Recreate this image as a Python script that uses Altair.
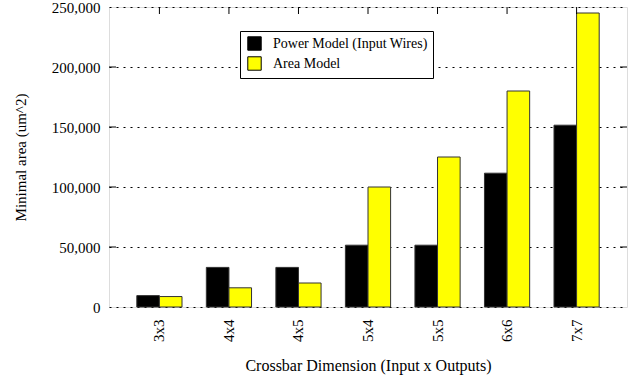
import altair as alt
import pandas as pd

categories = ["3x3", "4x4", "4x5", "5x4", "5x5", "6x6", "7x7"]
power_model = [9500, 33000, 33000, 51500, 51500, 111500, 151500]
area_model = [8700, 16000, 20000, 100000, 125000, 180000, 245000]
series_names = ["Power Model (Input Wires)", "Area Model"]
y_ticks = [0, 50000, 100000, 150000, 200000, 250000]

rows = []
for c, p, a in zip(categories, power_model, area_model):
    rows.append({"cat": c, "series": series_names[0], "value": p})
    rows.append({"cat": c, "series": series_names[1], "value": a})
df = pd.DataFrame(rows)
cat_df = pd.DataFrame({"cat": categories})
tick_df = pd.DataFrame({"value": y_ticks[1:-1]})

FONT = "Times New Roman, Liberation Serif, DejaVu Serif, serif"

xscale = alt.Scale(domain=categories, paddingInner=0.35, paddingOuter=0.40)
yscale = alt.Scale(domain=[0, 250000], nice=False)

xaxis = alt.Axis(title="Crossbar Dimension (Input x Outputs)", labelAngle=270,
                 labelAlign="right", labelBaseline="middle", labelPadding=12,
                 ticks=False, domain=False, titlePadding=16,
                 labelFont=FONT, titleFont=FONT, labelFontSize=15,
                 titleFontSize=16, labelColor="black", titleColor="black",
                 titleFontWeight="normal")
yaxis = alt.Axis(title="Minimal area (um^2)", values=y_ticks, format=",d",
                 grid=True, gridDash=[2, 5], gridColor="black", gridOpacity=1,
                 gridWidth=1, ticks=False, domain=False, labelPadding=9,
                 labelFont=FONT, titleFont=FONT, labelFontSize=15,
                 titleFontSize=15, labelColor="black", titleColor="black",
                 titleFontWeight="normal", titlePadding=23)

X = alt.X("cat:N", scale=xscale, sort=categories, axis=xaxis)
Y = alt.Y("value:Q", scale=yscale, axis=yaxis)

bars = alt.Chart(df).mark_bar(stroke="#333333", strokeWidth=1).encode(
    x=X,
    xOffset=alt.XOffset("series:N", sort=series_names,
                        scale=alt.Scale(domain=series_names, paddingInner=0, paddingOuter=0)),
    y=Y,
    color=alt.Color("series:N", sort=series_names,
                    scale=alt.Scale(domain=series_names, range=["#000000", "#ffff00"]),
                    legend=alt.Legend(title=None, orient="none", legendX=131, legendY=24,
                                      symbolType="square", symbolSize=180,
                                      symbolStrokeColor="black", symbolStrokeWidth=1,
                                      labelFont=FONT, labelFontSize=14, labelColor="black",
                                      strokeColor="black", fillColor="white",
                                      padding=5, rowPadding=1, labelOffset=11,
                                      symbolOffset=2)),
)

top_ticks = alt.Chart(cat_df).mark_rule(color="black", strokeWidth=1).encode(
    x=X, y=alt.value(0), y2=alt.value(7),
)
left_ticks = alt.Chart(tick_df).mark_rule(color="black", strokeWidth=1).encode(
    y=Y, x=alt.value(0), x2=alt.value(7),
)
right_ticks = alt.Chart(tick_df).mark_rule(color="black", strokeWidth=1).encode(
    y=Y, x=alt.value(511), x2=alt.value(518),
)

chart = alt.layer(bars, top_ticks, left_ticks, right_ticks).properties(
    width=518, height=300,
    autosize=alt.AutoSizeParams(type="none"),
    padding={"left": 109, "top": 7, "right": 7, "bottom": 71},
).configure_view(stroke="black", strokeWidth=1.5, strokeOpacity=1).configure(
    background="white", font=FONT)

chart.save("out.html", embed_options={"renderer": "svg", "actions": False})
